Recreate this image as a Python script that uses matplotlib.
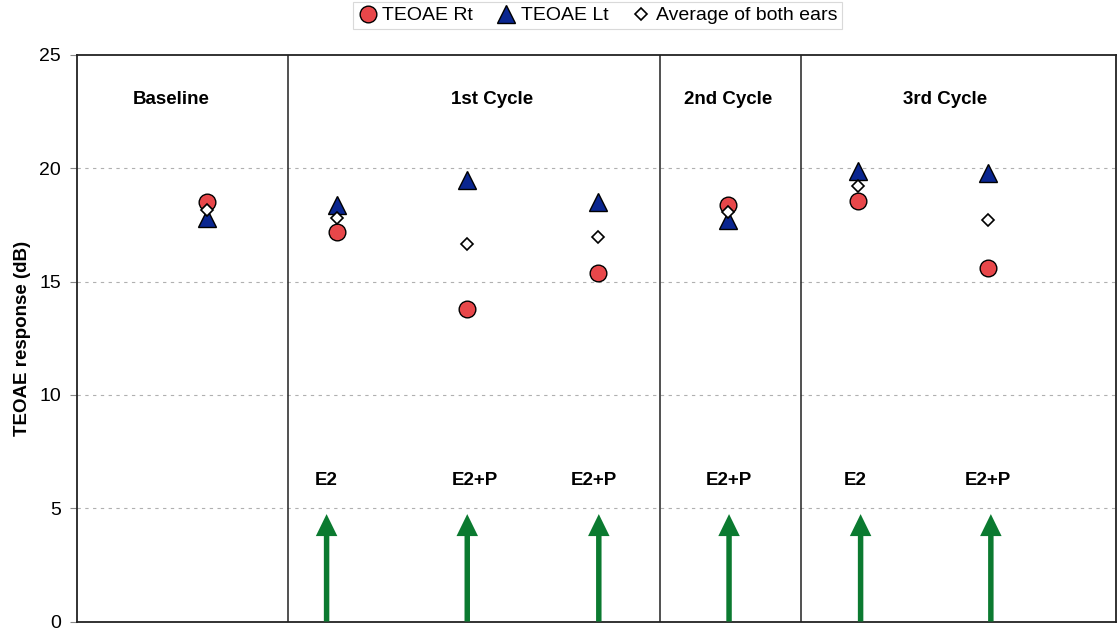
import matplotlib
matplotlib.use("Agg")
import matplotlib.pyplot as plt

plt.rcParams['font.family'] = ['Liberation Sans', 'DejaVu Sans']

# Data
x_pos = [1, 2, 3, 4, 5, 6, 7]
teoae_rt = [18.5, 17.2, 13.8, 15.4, 18.4, 18.55, 15.6]
teoae_lt = [17.8, 18.4, 19.5, 18.5, 17.7, 19.9, 19.8]
average = [18.15, 17.8, 16.65, 16.95, 18.05, 19.2, 17.7]

dividers = [1.62, 4.48, 5.56]
section_names = ["Baseline", "1st Cycle", "2nd Cycle", "3rd Cycle"]
section_x = [0.73, 3.19, 5.0, 6.67]
section_y = 23.05

arrow_x = [1.92, 3.0, 4.01, 5.01, 6.02, 7.02]
arrow_top = 4.74
treat_labels = ["E2", "E2+P", "E2+P", "E2+P", "E2", "E2+P"]
treat_x = [1.92, 3.06, 3.97, 5.01, 5.98, 7.0]
treat_y = 6.22

red = "#E8474A"
blue = "#0A2690"
green = "#0B7A30"

fig = plt.figure(figsize=(11.17, 6.32), dpi=100)
ax = fig.add_axes([0.0685, 0.0166, 0.9305, 0.8964])

ax.set_xlim(0, 7.98)
ax.set_ylim(0, 25)
ax.set_yticks([0, 5, 10, 15, 20, 25])
ax.set_xticks([])
ax.tick_params(axis='y', labelsize=14, length=5, width=0.8, color='#888888', pad=6)
for y in [5, 10, 15, 20]:
    ax.axhline(y, color='#b0b0b0', lw=0.8, ls=(0, (3, 4)), zorder=0)
for s in ax.spines.values():
    s.set_color('#222222')
    s.set_linewidth(1.3)

for d in dividers:
    ax.axvline(d, color='#222222', lw=1.1, zorder=1)

ax.set_ylabel("TEOAE response (dB)", fontsize=13.5, fontweight='bold', labelpad=6)

for name, sx in zip(section_names, section_x):
    ax.text(sx, section_y, name, ha='center', va='center', fontsize=13.5, fontweight='bold')

for lab, tx in zip(treat_labels, treat_x):
    ax.text(tx, treat_y, lab, ha='center', va='center', fontsize=13.5, fontweight='bold')

for axx in arrow_x:
    ax.arrow(axx, 0, 0, arrow_top, width=0.042, head_width=0.165, head_length=0.97,
             length_includes_head=True, color=green, lw=0, zorder=3)

ax.plot(x_pos, teoae_rt, ls='none', marker='o', ms=12, mfc=red, mec='black',
        mew=1.0, label='TEOAE Rt', zorder=4)
ax.plot(x_pos, teoae_lt, ls='none', marker='^', ms=12.5, mfc=blue, mec='black',
        mew=1.0, label='TEOAE Lt', zorder=4)
ax.plot(x_pos, average, ls='none', marker='D', ms=6.5, mfc='white', mec='black',
        mew=1.2, label='Average of both ears', zorder=5)

leg = fig.legend(loc='upper center', bbox_to_anchor=(0.535, 1.0), ncol=3,
                 frameon=True, fancybox=False, edgecolor='#d0d0d0', fontsize=14,
                 handletextpad=0.25, columnspacing=1.2, handlelength=1.0,
                 borderpad=0.25, borderaxespad=0.1)
leg.get_frame().set_linewidth(0.8)

fig.savefig("out.png", dpi=100)
